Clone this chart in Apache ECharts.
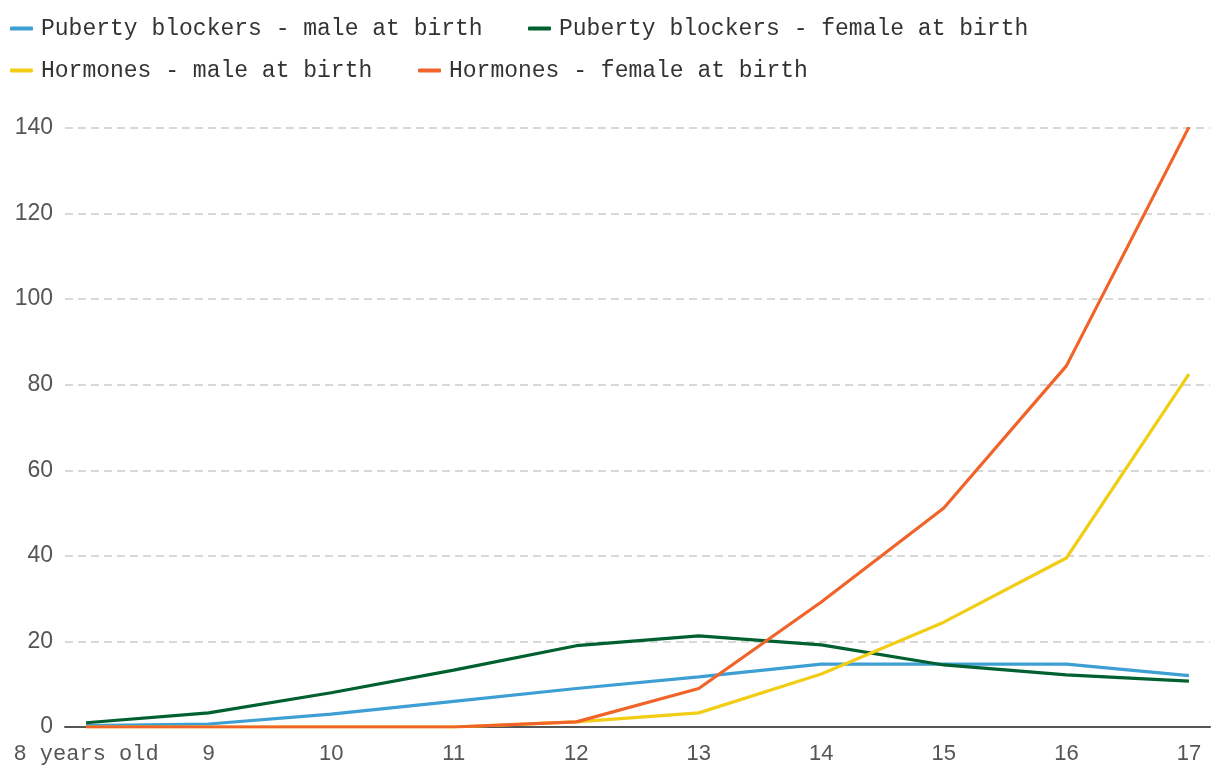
<!DOCTYPE html>
<html><head><meta charset="utf-8">
<script src="https://cdn.jsdelivr.net/npm/echarts@6/dist/echarts.min.js"></script>
<style>html,body{margin:0;padding:0;background:#fff}#c{width:1220px;height:778px}</style>
</head><body><div id="c"></div>
<script>
const ages = [8, 9, 10, 11, 12, 13, 14, 15, 16, 17];
const firstAgeLabel = '8 years old';
const yTicks = [0, 20, 40, 60, 80, 100, 120, 140];
const seriesNames = ['Puberty blockers - male at birth', 'Puberty blockers - female at birth', 'Hormones - male at birth', 'Hormones - female at birth'];
const pbMale = [0.3, 0.7, 3, 6, 9, 11.7, 14.7, 14.7, 14.7, 12];
const pbFemale = [1, 3.3, 8, 13.3, 19, 21.3, 19.2, 14.5, 12.2, 10.7];
const hMale = [0, 0, 0, 0, 1.2, 3.3, 12.4, 24.5, 39.5, 82.5];
const hFemale = [0, 0, 0, 0, 1.2, 9, 29.2, 51.2, 84.4, 140.2];
const colors = ['#3d9fd3', '#00602f', '#f2cd16', '#f0642a'];

const mono = '"Liberation Mono", "DejaVu Sans Mono", monospace';
const sans = '"Liberation Sans", Arial, sans-serif';
const pairs = arr => arr.map((v, i) => [ages[i], v]);
const allData = [pbMale, pbFemale, hMale, hFemale];

const legendPos = [[10, 17], [528, 17], [10, 59], [418, 59]];
const legends = seriesNames.map((n, i) => ({
  data: [n], left: legendPos[i][0], top: legendPos[i][1], orient: 'horizontal', padding: 0,
  icon: 'roundRect', itemWidth: 23, itemHeight: 4,
  textStyle: { fontFamily: mono, fontSize: 23, color: '#333', padding: [0, 0, 0, 3] },
  selectedMode: false
}));

const chart = echarts.init(document.getElementById('c'), null, { renderer: 'canvas' });
chart.setOption({
  animation: false,
  color: colors,
  legend: legends,
  grid: { left: 65, right: 10, top: 128, bottom: 51, containLabel: false },
  xAxis: {
    type: 'value', min: 7.828, max: 17.172,
    axisLine: { show: true, onZero: false, lineStyle: { color: '#555', width: 2 } },
    axisTick: { show: false },
    splitLine: { show: false },
    axisLabel: {
      customValues: ages, margin: 16,
      fontFamily: sans, fontSize: 22, color: '#555',
      formatter: v => v === ages[0] ? '{m|' + firstAgeLabel + '}' : String(v),
      rich: { m: { fontFamily: mono, fontSize: 22, color: '#555' } }
    }
  },
  yAxis: {
    type: 'value', min: yTicks[0], max: yTicks[yTicks.length - 1], interval: 20,
    axisLine: { show: false }, axisTick: { show: false },
    axisLabel: { fontFamily: sans, fontSize: 23, color: '#555', margin: 12 },
    splitLine: { lineStyle: { color: '#cccccc', width: 1.5, type: [8, 5] } }
  },
  series: seriesNames.map((n, i) => ({
    name: n, type: 'line', data: pairs(allData[i]), showSymbol: false, symbol: 'none',
    lineStyle: { width: 3.2, color: colors[i] }, itemStyle: { color: colors[i] }, z: 2 + i
  }))
});
</script></body></html>
